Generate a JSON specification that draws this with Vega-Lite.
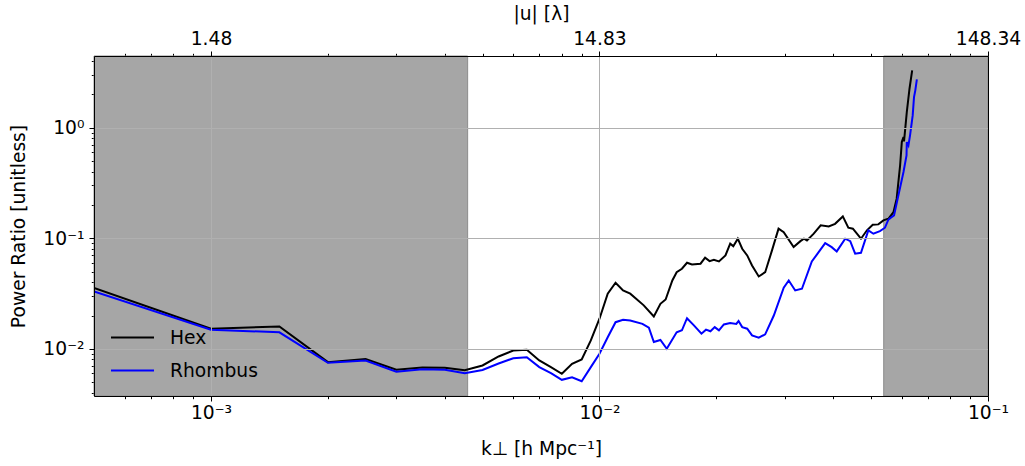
{
  "$schema": "https://vega.github.io/schema/vega-lite/v6.json",
  "width": 894,
  "height": 340,
  "autosize": {"type": "none"},
  "padding": {"left": 94, "top": 56, "right": 37, "bottom": 70},
  "config": {
    "font": "DejaVu Sans",
    "view": {"stroke": null},
    "axis": {
      "labelFont": "DejaVu Sans",
      "titleFont": "DejaVu Sans",
      "labelFontSize": 18.7,
      "titleFontSize": 18.7,
      "titleFontWeight": "normal",
      "labelColor": "black",
      "titleColor": "black",
      "tickColor": "black",
      "domainColor": "black",
      "domainWidth": 1,
      "tickWidth": 1,
      "labelOverlap": false,
      "labelFlush": false,
      "labelBound": false,
      "gridColor": "#b0b0b0",
      "gridWidth": 1,
      "gridOpacity": 1
    },
    "legend": {"labelFont": "DejaVu Sans"}
  },
  "datasets": {
    "bands": [
      {"start": 0.0005, "end": 0.004578},
      {"start": 0.0539, "end": 0.1}
    ],
    "curves": [
      {"k": 0.0005, "r": 0.0355, "s": "Hex"},
      {"k": 0.001, "r": 0.0152, "s": "Hex"},
      {"k": 0.0015, "r": 0.0159, "s": "Hex"},
      {"k": 0.002, "r": 0.00757, "s": "Hex"},
      {"k": 0.0025, "r": 0.00807, "s": "Hex"},
      {"k": 0.003, "r": 0.00646, "s": "Hex"},
      {"k": 0.0035, "r": 0.00678, "s": "Hex"},
      {"k": 0.004, "r": 0.00675, "s": "Hex"},
      {"k": 0.0045, "r": 0.00639, "s": "Hex"},
      {"k": 0.005, "r": 0.00706, "s": "Hex"},
      {"k": 0.0055, "r": 0.00852, "s": "Hex"},
      {"k": 0.006, "r": 0.00965, "s": "Hex"},
      {"k": 0.0065, "r": 0.0098, "s": "Hex"},
      {"k": 0.007, "r": 0.00784, "s": "Hex"},
      {"k": 0.0075, "r": 0.00681, "s": "Hex"},
      {"k": 0.008, "r": 0.00594, "s": "Hex"},
      {"k": 0.0085, "r": 0.00731, "s": "Hex"},
      {"k": 0.009, "r": 0.008, "s": "Hex"},
      {"k": 0.0095, "r": 0.0119, "s": "Hex"},
      {"k": 0.01, "r": 0.0187, "s": "Hex"},
      {"k": 0.0105, "r": 0.0315, "s": "Hex"},
      {"k": 0.011, "r": 0.0396, "s": "Hex"},
      {"k": 0.0115, "r": 0.0337, "s": "Hex"},
      {"k": 0.012, "r": 0.0315, "s": "Hex"},
      {"k": 0.013, "r": 0.0247, "s": "Hex"},
      {"k": 0.0138, "r": 0.0196, "s": "Hex"},
      {"k": 0.01435, "r": 0.0255, "s": "Hex"},
      {"k": 0.0148, "r": 0.0279, "s": "Hex"},
      {"k": 0.0154, "r": 0.0415, "s": "Hex"},
      {"k": 0.0158, "r": 0.0493, "s": "Hex"},
      {"k": 0.0163, "r": 0.053, "s": "Hex"},
      {"k": 0.0168, "r": 0.06, "s": "Hex"},
      {"k": 0.0173, "r": 0.0579, "s": "Hex"},
      {"k": 0.0182, "r": 0.0588, "s": "Hex"},
      {"k": 0.0187, "r": 0.0666, "s": "Hex"},
      {"k": 0.0192, "r": 0.0621, "s": "Hex"},
      {"k": 0.0197, "r": 0.0639, "s": "Hex"},
      {"k": 0.0203, "r": 0.0617, "s": "Hex"},
      {"k": 0.0211, "r": 0.0699, "s": "Hex"},
      {"k": 0.0217, "r": 0.0892, "s": "Hex"},
      {"k": 0.0221, "r": 0.0848, "s": "Hex"},
      {"k": 0.0227, "r": 0.099, "s": "Hex"},
      {"k": 0.0233, "r": 0.0803, "s": "Hex"},
      {"k": 0.024, "r": 0.0699, "s": "Hex"},
      {"k": 0.0247, "r": 0.0567, "s": "Hex"},
      {"k": 0.0257, "r": 0.0451, "s": "Hex"},
      {"k": 0.0267, "r": 0.0493, "s": "Hex"},
      {"k": 0.0278, "r": 0.0776, "s": "Hex"},
      {"k": 0.0289, "r": 0.122, "s": "Hex"},
      {"k": 0.0298, "r": 0.1135, "s": "Hex"},
      {"k": 0.0316, "r": 0.0831, "s": "Hex"},
      {"k": 0.0329, "r": 0.0941, "s": "Hex"},
      {"k": 0.0336, "r": 0.099, "s": "Hex"},
      {"k": 0.0342, "r": 0.0955, "s": "Hex"},
      {"k": 0.0356, "r": 0.11, "s": "Hex"},
      {"k": 0.0371, "r": 0.131, "s": "Hex"},
      {"k": 0.0389, "r": 0.128, "s": "Hex"},
      {"k": 0.0404, "r": 0.135, "s": "Hex"},
      {"k": 0.0423, "r": 0.1575, "s": "Hex"},
      {"k": 0.0437, "r": 0.1245, "s": "Hex"},
      {"k": 0.0449, "r": 0.122, "s": "Hex"},
      {"k": 0.0471, "r": 0.099, "s": "Hex"},
      {"k": 0.0488, "r": 0.118, "s": "Hex"},
      {"k": 0.0505, "r": 0.1325, "s": "Hex"},
      {"k": 0.0522, "r": 0.1334, "s": "Hex"},
      {"k": 0.0538, "r": 0.145, "s": "Hex"},
      {"k": 0.0554, "r": 0.15, "s": "Hex"},
      {"k": 0.0571, "r": 0.172, "s": "Hex"},
      {"k": 0.0582, "r": 0.228, "s": "Hex"},
      {"k": 0.0594, "r": 0.456, "s": "Hex"},
      {"k": 0.06, "r": 0.741, "s": "Hex"},
      {"k": 0.0606, "r": 0.822, "s": "Hex"},
      {"k": 0.0608, "r": 0.751, "s": "Hex"},
      {"k": 0.0618, "r": 1.384, "s": "Hex"},
      {"k": 0.0628, "r": 2.25, "s": "Hex"},
      {"k": 0.0638, "r": 3.3, "s": "Hex"},
      {"k": 0.0005, "r": 0.033, "s": "Rhombus"},
      {"k": 0.001, "r": 0.0149, "s": "Rhombus"},
      {"k": 0.0015, "r": 0.0141, "s": "Rhombus"},
      {"k": 0.002, "r": 0.00747, "s": "Rhombus"},
      {"k": 0.0025, "r": 0.00784, "s": "Rhombus"},
      {"k": 0.003, "r": 0.00619, "s": "Rhombus"},
      {"k": 0.0035, "r": 0.00654, "s": "Rhombus"},
      {"k": 0.004, "r": 0.00646, "s": "Rhombus"},
      {"k": 0.0045, "r": 0.00601, "s": "Rhombus"},
      {"k": 0.005, "r": 0.00643, "s": "Rhombus"},
      {"k": 0.0055, "r": 0.00736, "s": "Rhombus"},
      {"k": 0.006, "r": 0.00822, "s": "Rhombus"},
      {"k": 0.0065, "r": 0.00839, "s": "Rhombus"},
      {"k": 0.007, "r": 0.00682, "s": "Rhombus"},
      {"k": 0.0075, "r": 0.00601, "s": "Rhombus"},
      {"k": 0.008, "r": 0.00524, "s": "Rhombus"},
      {"k": 0.0085, "r": 0.00553, "s": "Rhombus"},
      {"k": 0.009, "r": 0.00509, "s": "Rhombus"},
      {"k": 0.0095, "r": 0.00682, "s": "Rhombus"},
      {"k": 0.01, "r": 0.00901, "s": "Rhombus"},
      {"k": 0.0105, "r": 0.0127, "s": "Rhombus"},
      {"k": 0.011, "r": 0.0174, "s": "Rhombus"},
      {"k": 0.0115, "r": 0.0183, "s": "Rhombus"},
      {"k": 0.012, "r": 0.018, "s": "Rhombus"},
      {"k": 0.0129, "r": 0.0168, "s": "Rhombus"},
      {"k": 0.0134, "r": 0.0155, "s": "Rhombus"},
      {"k": 0.0138, "r": 0.0115, "s": "Rhombus"},
      {"k": 0.01435, "r": 0.012, "s": "Rhombus"},
      {"k": 0.0149, "r": 0.01, "s": "Rhombus"},
      {"k": 0.0158, "r": 0.0141, "s": "Rhombus"},
      {"k": 0.0163, "r": 0.0147, "s": "Rhombus"},
      {"k": 0.0168, "r": 0.0189, "s": "Rhombus"},
      {"k": 0.0175, "r": 0.0163, "s": "Rhombus"},
      {"k": 0.0183, "r": 0.0137, "s": "Rhombus"},
      {"k": 0.0188, "r": 0.0149, "s": "Rhombus"},
      {"k": 0.0193, "r": 0.0144, "s": "Rhombus"},
      {"k": 0.0198, "r": 0.0157, "s": "Rhombus"},
      {"k": 0.0203, "r": 0.0147, "s": "Rhombus"},
      {"k": 0.0209, "r": 0.0166, "s": "Rhombus"},
      {"k": 0.0217, "r": 0.0171, "s": "Rhombus"},
      {"k": 0.0225, "r": 0.0168, "s": "Rhombus"},
      {"k": 0.0228, "r": 0.0178, "s": "Rhombus"},
      {"k": 0.0233, "r": 0.0157, "s": "Rhombus"},
      {"k": 0.024, "r": 0.0152, "s": "Rhombus"},
      {"k": 0.0247, "r": 0.0132, "s": "Rhombus"},
      {"k": 0.0257, "r": 0.0126, "s": "Rhombus"},
      {"k": 0.0267, "r": 0.0135, "s": "Rhombus"},
      {"k": 0.0281, "r": 0.02, "s": "Rhombus"},
      {"k": 0.0298, "r": 0.0357, "s": "Rhombus"},
      {"k": 0.0307, "r": 0.0415, "s": "Rhombus"},
      {"k": 0.0319, "r": 0.0337, "s": "Rhombus"},
      {"k": 0.0332, "r": 0.0349, "s": "Rhombus"},
      {"k": 0.0352, "r": 0.0617, "s": "Rhombus"},
      {"k": 0.0363, "r": 0.0714, "s": "Rhombus"},
      {"k": 0.0381, "r": 0.0903, "s": "Rhombus"},
      {"k": 0.0396, "r": 0.0831, "s": "Rhombus"},
      {"k": 0.0408, "r": 0.076, "s": "Rhombus"},
      {"k": 0.0429, "r": 0.099, "s": "Rhombus"},
      {"k": 0.0442, "r": 0.0941, "s": "Rhombus"},
      {"k": 0.0455, "r": 0.0724, "s": "Rhombus"},
      {"k": 0.0471, "r": 0.0739, "s": "Rhombus"},
      {"k": 0.0492, "r": 0.1177, "s": "Rhombus"},
      {"k": 0.0507, "r": 0.1098, "s": "Rhombus"},
      {"k": 0.0527, "r": 0.116, "s": "Rhombus"},
      {"k": 0.0543, "r": 0.1245, "s": "Rhombus"},
      {"k": 0.0554, "r": 0.147, "s": "Rhombus"},
      {"k": 0.056, "r": 0.152, "s": "Rhombus"},
      {"k": 0.0573, "r": 0.161, "s": "Rhombus"},
      {"k": 0.0588, "r": 0.244, "s": "Rhombus"},
      {"k": 0.0606, "r": 0.397, "s": "Rhombus"},
      {"k": 0.0617, "r": 0.561, "s": "Rhombus"},
      {"k": 0.0618, "r": 0.741, "s": "Rhombus"},
      {"k": 0.0624, "r": 0.691, "s": "Rhombus"},
      {"k": 0.063, "r": 0.852, "s": "Rhombus"},
      {"k": 0.064, "r": 1.292, "s": "Rhombus"},
      {"k": 0.0645, "r": 1.892, "s": "Rhombus"},
      {"k": 0.065, "r": 2.176, "s": "Rhombus"},
      {"k": 0.0656, "r": 2.735, "s": "Rhombus"}
    ]
  },
  "resolve": {"axis": {"x": "independent", "y": "independent"}},
  "layer": [
    {
      "data": {"name": "bands"},
      "mark": {"type": "rect", "fill": "#a6a6a6", "stroke": "#8c8c8c", "strokeWidth": 1},
      "encoding": {
        "x": {
          "field": "start", "type": "quantitative",
          "scale": {"type": "log", "domain": [0.0005, 0.1], "nice": false},
          "axis": {
            "orient": "bottom", "values": [0.001, 0.01, 0.1],
            "labelExpr": "datum.value < 0.005 ? '10⁻³' : datum.value < 0.05 ? '10⁻²' : '10⁻¹'",
            "grid": true, "tickSize": 5, "labelPadding": 2, "zindex": 1,
            "title": "k⊥ [h Mpc⁻¹]", "titleY": 52, "titleBaseline": "middle"
          }
        },
        "x2": {"field": "end"}
      }
    },
    {
      "data": {"name": "curves"},
      "mark": {"type": "line", "strokeWidth": 2, "clip": true},
      "encoding": {
        "x": {
          "field": "k", "type": "quantitative",
          "scale": {"type": "log", "domain": [0.0005, 0.1], "nice": false},
          "axis": {
            "orient": "bottom",
            "values": [0.0006, 0.0007, 0.0008, 0.0009, 0.002, 0.003, 0.004, 0.005, 0.006, 0.007, 0.008, 0.009, 0.02, 0.03, 0.04, 0.05, 0.06, 0.07, 0.08, 0.09],
            "labels": false, "domain": false, "grid": false, "tickSize": 2.7, "title": null
          }
        },
        "y": {
          "field": "r", "type": "quantitative",
          "scale": {"type": "log", "domain": [0.00374, 4.45], "nice": false},
          "axis": {
            "orient": "left", "values": [0.01, 0.1, 1],
            "labelExpr": "datum.value > 0.5 ? '10⁰' : datum.value > 0.05 ? '10⁻¹' : '10⁻²'",
            "grid": true, "tickSize": 5, "labelPadding": 5, "zindex": 1,
            "title": "Power Ratio [unitless]", "titleX": -76, "titleBaseline": "middle"
          }
        },
        "color": {
          "field": "s", "type": "nominal",
          "scale": {"domain": ["Hex", "Rhombus"], "range": ["#000000", "#0000ff"]},
          "legend": {
            "title": null, "orient": "none", "legendX": 16, "legendY": 259,
            "symbolType": "stroke", "symbolSize": 1849, "symbolStrokeWidth": 2,
            "labelFontSize": 18.7, "labelColor": "black", "labelOffset": 15,
            "rowPadding": -5
          }
        }
      }
    },
    {
      "data": {"name": "curves"},
      "mark": {"type": "point", "opacity": 0},
      "encoding": {
        "x": {
          "field": "k", "type": "quantitative",
          "scale": {"type": "log", "domain": [0.0005, 0.1], "nice": false},
          "axis": {
            "orient": "top", "values": [0.001, 0.01, 0.1],
            "labelExpr": "datum.value < 0.005 ? '1.48' : datum.value < 0.05 ? '14.83' : '148.34'",
            "grid": false, "tickSize": 5, "labelPadding": 3, "zindex": 1,
            "title": "|u| [λ]", "titleY": -43, "titleBaseline": "middle"
          }
        },
        "y": {
          "field": "r", "type": "quantitative",
          "scale": {"type": "log", "domain": [0.00374, 4.45], "nice": false},
          "axis": {
            "orient": "left",
            "values": [0.004, 0.005, 0.006, 0.007, 0.008, 0.009, 0.02, 0.03, 0.04, 0.05, 0.06, 0.07, 0.08, 0.09, 0.2, 0.3, 0.4, 0.5, 0.6, 0.7, 0.8, 0.9, 2, 3, 4],
            "labels": false, "domain": false, "grid": false, "tickSize": 2.7, "title": null
          }
        }
      }
    },
    {
      "data": {"name": "curves"},
      "mark": {"type": "point", "opacity": 0},
      "encoding": {
        "x": {
          "field": "k", "type": "quantitative",
          "scale": {"type": "log", "domain": [0.0005, 0.1], "nice": false},
          "axis": {
            "orient": "top",
            "values": [0.0006, 0.0007, 0.0008, 0.0009, 0.002, 0.003, 0.004, 0.005, 0.006, 0.007, 0.008, 0.009, 0.02, 0.03, 0.04, 0.05, 0.06, 0.07, 0.08, 0.09],
            "labels": false, "domain": false, "grid": false, "tickSize": 2.7, "title": null
          }
        },
        "y": {
          "field": "r", "type": "quantitative",
          "scale": {"type": "log", "domain": [0.00374, 4.45], "nice": false},
          "axis": {
            "orient": "right", "values": [],
            "labels": false, "ticks": false, "domain": true, "grid": false, "title": null, "zindex": 1
          }
        }
      }
    }
  ]
}
